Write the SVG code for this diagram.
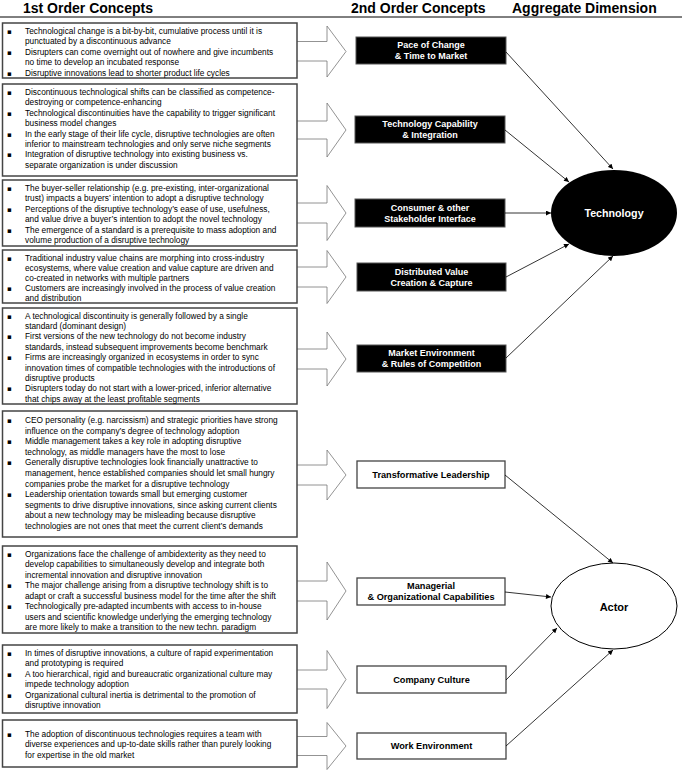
<svg xmlns="http://www.w3.org/2000/svg" width="685" height="772" viewBox="0 0 685 772">
<style>
.hdr{font-family:"Liberation Sans",Arial,sans-serif;font-weight:bold;font-size:14px;fill:#000}
.t{font-family:"Liberation Sans",Arial,sans-serif;font-size:8.3px;fill:#000}
.b{font-family:"DejaVu Sans",sans-serif;font-size:7px;fill:#000}
.box{fill:#fff;stroke:#444;stroke-width:1.5}
.blk{fill:#000;stroke:#555;stroke-width:1}
.wht{fill:#fff;stroke:#444;stroke-width:1.3}
.arr{fill:#fff;stroke:#777;stroke-width:0.8}
.lw{font-family:"Liberation Sans",Arial,sans-serif;font-weight:bold;font-size:9px;fill:#fff;text-anchor:middle}
.lb{font-family:"Liberation Sans",Arial,sans-serif;font-weight:bold;font-size:9.2px;fill:#000;text-anchor:middle}
.con{fill:none;stroke:#000;stroke-width:0.8;marker-end:url(#ah)}
</style>
<defs>
<marker id="ah" viewBox="0 0 10 10" refX="10" refY="5" markerWidth="6" markerHeight="5" markerUnits="userSpaceOnUse" orient="auto">
<path d="M0,0 L10,5 L0,10 z" fill="#000"/>
</marker>
</defs>
<rect width="685" height="772" fill="#fff"/>
<g id="headers">
<text class="hdr" x="23" y="13">1st Order Concepts</text>
<text class="hdr" x="351" y="13">2nd Order Concepts</text>
<text class="hdr" x="512" y="13">Aggregate Dimension</text>
<line x1="0" y1="17" x2="682" y2="17" stroke="#000" stroke-width="1"/>
</g>

<g id="block-arrows">
<path class="arr" d="M297,41.5 L327,41.5 L327,26 L346,51.5 L327,77 L327,61 L297,61"/>
<path class="arr" d="M297,121 L327,121 L327,103 L346,130 L327,157 L327,139 L297,139"/>
<path class="arr" d="M297,203 L327,203 L327,185.5 L346,213 L327,240.5 L327,223 L297,223"/>
<path class="arr" d="M297,267 L327,267 L327,250.5 L346,277 L327,303.5 L327,287 L297,287"/>
<path class="arr" d="M297,349 L327,349 L327,332 L346,359 L327,386 L327,369 L297,369"/>
<path class="arr" d="M297,465 L327,465 L327,450 L346,475 L327,500 L327,485 L297,485"/>
<path class="arr" d="M297,581 L327,581 L327,562 L346,591 L327,620 L327,601 L297,601"/>
<path class="arr" d="M297,670 L327,670 L327,650.5 L346,679.5 L327,708.5 L327,689 L297,689"/>
<path class="arr" d="M297,736.5 L327,736.5 L327,722.5 L346,746 L327,769.5 L327,755.5 L297,755.5"/>
</g>

<g id="c1-pace">
<rect class="box" x="2.5" y="23" width="294.5" height="55"/>
<text class="b" x="7" y="34">▪</text><text class="t" x="25" y="34">Technological change is a bit-by-bit, cumulative process until it is</text>
<text class="t" x="25" y="44.4">punctuated by a discontinuous advance</text>
<text class="b" x="7" y="54.8">▪</text><text class="t" x="25" y="54.8">Disrupters can come overnight out of nowhere and give incumbents</text>
<text class="t" x="25" y="65.2">no time to develop an incubated response</text>
<text class="b" x="7" y="75.6">▪</text><text class="t" x="25" y="75.6">Disruptive innovations lead to shorter product life cycles</text>
</g>

<g id="c1-capability">
<rect class="box" x="2.5" y="84" width="294.5" height="92"/>
<text class="b" x="7" y="95">▪</text><text class="t" x="25" y="95">Discontinuous technological shifts can be classified as competence-</text>
<text class="t" x="25" y="105.4">destroying or competence-enhancing</text>
<text class="b" x="7" y="115.8">▪</text><text class="t" x="25" y="115.8">Technological discontinuities have the capability to trigger significant</text>
<text class="t" x="25" y="126.2">business model changes</text>
<text class="b" x="7" y="136.6">▪</text><text class="t" x="25" y="136.6">In the early stage of their life cycle, disruptive technologies are often</text>
<text class="t" x="25" y="147">inferior to mainstream technologies and only serve niche segments</text>
<text class="b" x="7" y="157.4">▪</text><text class="t" x="25" y="157.4">Integration of disruptive technology into existing business vs.</text>
<text class="t" x="25" y="167.8">separate organization is under discussion</text>
</g>

<g id="c1-consumer">
<rect class="box" x="2.5" y="180" width="294.5" height="66"/>
<text class="b" x="7" y="191">▪</text><text class="t" x="25" y="191">The buyer-seller relationship (e.g. pre-existing, inter-organizational</text>
<text class="t" x="25" y="201.4">trust) impacts a buyers’ intention to adopt a disruptive technology</text>
<text class="b" x="7" y="211.8">▪</text><text class="t" x="25" y="211.8">Perceptions of the disruptive technology’s ease of use, usefulness,</text>
<text class="t" x="25" y="222.2">and value drive a buyer’s intention to adopt the novel technology</text>
<text class="b" x="7" y="232.6">▪</text><text class="t" x="25" y="232.6">The emergence of a standard is a prerequisite to mass adoption and</text>
<text class="t" x="25" y="243">volume production of a disruptive technology</text>
</g>

<g id="c1-value">
<rect class="box" x="2.5" y="250" width="294.5" height="53"/>
<text class="b" x="7" y="260.5">▪</text><text class="t" x="25" y="260.5">Traditional industry value chains are morphing into cross-industry</text>
<text class="t" x="25" y="270.7">ecosystems, where value creation and value capture are driven and</text>
<text class="t" x="25" y="280.9">co-created in networks with multiple partners</text>
<text class="b" x="7" y="291.1">▪</text><text class="t" x="25" y="291.1">Customers are increasingly involved in the process of value creation</text>
<text class="t" x="25" y="301.3">and distribution</text>
</g>

<g id="c1-market">
<rect class="box" x="2.5" y="308" width="294.5" height="96"/>
<text class="b" x="7" y="318.5">▪</text><text class="t" x="25" y="318.5">A technological discontinuity is generally followed by a single</text>
<text class="t" x="25" y="328.9">standard (dominant design)</text>
<text class="b" x="7" y="339.3">▪</text><text class="t" x="25" y="339.3">First versions of the new technology do not become industry</text>
<text class="t" x="25" y="349.7">standards, instead subsequent improvements become benchmark</text>
<text class="b" x="7" y="360.1">▪</text><text class="t" x="25" y="360.1">Firms are increasingly organized in ecosystems in order to sync</text>
<text class="t" x="25" y="370.5">innovation times of compatible technologies with the introductions of</text>
<text class="t" x="25" y="380.9">disruptive products</text>
<text class="b" x="7" y="391.3">▪</text><text class="t" x="25" y="391.3">Disrupters today do not start with a lower-priced, inferior alternative</text>
<text class="t" x="25" y="401.7">that chips away at the least profitable segments</text>
</g>

<g id="c1-leadership">
<rect class="box" x="2.5" y="411" width="294.5" height="126"/>
<text class="b" x="7" y="423">▪</text><text class="t" x="25" y="423">CEO personality (e.g. narcissism) and strategic priorities have strong</text>
<text class="t" x="25" y="433.6">influence on the company’s degree of technology adoption</text>
<text class="b" x="7" y="444.2">▪</text><text class="t" x="25" y="444.2">Middle management takes a key role in adopting disruptive</text>
<text class="t" x="25" y="454.8">technology, as middle managers have the most to lose</text>
<text class="b" x="7" y="465.4">▪</text><text class="t" x="25" y="465.4">Generally disruptive technologies look financially unattractive to</text>
<text class="t" x="25" y="476">management, hence established companies should let small hungry</text>
<text class="t" x="25" y="486.6">companies probe the market for a disruptive technology</text>
<text class="b" x="7" y="497.2">▪</text><text class="t" x="25" y="497.2">Leadership orientation towards small but emerging customer</text>
<text class="t" x="25" y="507.8">segments to drive disruptive innovations, since asking current clients</text>
<text class="t" x="25" y="518.4">about a new technology may be misleading because disruptive</text>
<text class="t" x="25" y="529">technologies are not ones that meet the current client’s demands</text>
</g>

<g id="c1-managerial">
<rect class="box" x="2.5" y="546" width="294.5" height="87"/>
<text class="b" x="7" y="556.5">▪</text><text class="t" x="25" y="556.5">Organizations face the challenge of ambidexterity as they need to</text>
<text class="t" x="25" y="567">develop capabilities to simultaneously develop and integrate both</text>
<text class="t" x="25" y="577.5">incremental innovation and disruptive innovation</text>
<text class="b" x="7" y="588">▪</text><text class="t" x="25" y="588">The major challenge arising from a disruptive technology shift is to</text>
<text class="t" x="25" y="598.5">adapt or craft a successful business model for the time after the shift</text>
<text class="b" x="7" y="609">▪</text><text class="t" x="25" y="609">Technologically pre-adapted incumbents with access to in-house</text>
<text class="t" x="25" y="619.5">users and scientific knowledge underlying the emerging technology</text>
<text class="t" x="25" y="630">are more likely to make a transition to the new techn. paradigm</text>
</g>

<g id="c1-culture">
<rect class="box" x="2.5" y="645" width="294.5" height="68"/>
<text class="b" x="7" y="656">▪</text><text class="t" x="25" y="656">In times of disruptive innovations, a culture of rapid experimentation</text>
<text class="t" x="25" y="666.4">and prototyping is required</text>
<text class="b" x="7" y="676.8">▪</text><text class="t" x="25" y="676.8">A too hierarchical, rigid and bureaucratic organizational culture may</text>
<text class="t" x="25" y="687.2">impede technology adoption</text>
<text class="b" x="7" y="697.6">▪</text><text class="t" x="25" y="697.6">Organizational cultural inertia is detrimental to the promotion of</text>
<text class="t" x="25" y="708">disruptive innovation</text>
</g>

<g id="c1-work">
<rect class="box" x="2.5" y="720" width="294.5" height="47"/>
<text class="b" x="7" y="736.5">▪</text><text class="t" x="25" y="736.5">The adoption of discontinuous technologies requires a team with</text>
<text class="t" x="25" y="747">diverse experiences and up-to-date skills rather than purely looking</text>
<text class="t" x="25" y="757.5">for expertise in the old market</text>
</g>

<g id="n-pace"><rect class="blk" x="356" y="37" width="150" height="27"/>
<text class="lw" x="431" y="48.2">Pace of Change</text><text class="lw" x="431" y="59.2">&amp; Time to Market</text></g>
<g id="n-capability"><rect class="blk" x="355" y="116" width="150" height="27"/>
<text class="lw" x="430" y="127.2">Technology Capability</text><text class="lw" x="430" y="138.2">&amp; Integration</text></g>
<g id="n-consumer"><rect class="blk" x="355" y="199" width="150" height="28"/>
<text class="lw" x="430" y="210.7">Consumer &amp; other</text><text class="lw" x="430" y="221.7">Stakeholder Interface</text></g>
<g id="n-value"><rect class="blk" x="357" y="263" width="149" height="28"/>
<text class="lw" x="431.5" y="274.7">Distributed Value</text><text class="lw" x="431.5" y="285.7">Creation &amp; Capture</text></g>
<g id="n-market"><rect class="blk" x="357" y="345" width="149" height="27"/>
<text class="lw" x="431.5" y="356.2">Market Environment</text><text class="lw" x="431.5" y="367.2">&amp; Rules of Competition</text></g>
<g id="n-leadership"><rect class="wht" x="357" y="461" width="148" height="27"/>
<text class="lb" x="431" y="477.7">Transformative Leadership</text></g>
<g id="n-managerial"><rect class="wht" x="357" y="578" width="148" height="27"/>
<text class="lb" x="431" y="589.2">Managerial</text><text class="lb" x="431" y="600.2">&amp; Organizational Capabilities</text></g>
<g id="n-culture"><rect class="wht" x="357" y="666" width="149" height="27"/>
<text class="lb" x="431.5" y="682.7">Company Culture</text></g>
<g id="n-work"><rect class="wht" x="357" y="733" width="149" height="26"/>
<text class="lb" x="431.5" y="749.2">Work Environment</text></g>

<g id="n-technology"><ellipse cx="614" cy="213" rx="63" ry="43" fill="#000"/>
<text x="614" y="217" font-family="Liberation Sans, Arial, sans-serif" font-weight="bold" font-size="10.7" fill="#fff" text-anchor="middle">Technology</text></g>
<g id="n-actor"><ellipse cx="614" cy="606" rx="63" ry="43" fill="#fff" stroke="#000" stroke-width="1"/>
<text x="614" y="611" font-family="Liberation Sans, Arial, sans-serif" font-weight="bold" font-size="11" fill="#000" text-anchor="middle">Actor</text></g>

<g id="connectors">
<line class="con" x1="506" y1="52" x2="613" y2="169"/>
<line class="con" x1="505" y1="130" x2="569" y2="182"/>
<line class="con" x1="505" y1="213" x2="551" y2="213"/>
<line class="con" x1="506" y1="277" x2="569" y2="244"/>
<line class="con" x1="506" y1="358" x2="613" y2="256"/>
<line class="con" x1="505" y1="475" x2="613" y2="563"/>
<line class="con" x1="505" y1="592" x2="551" y2="597"/>
<line class="con" x1="506" y1="680" x2="557" y2="628"/>
<line class="con" x1="506" y1="746" x2="613" y2="650"/>
</g>
</svg>
